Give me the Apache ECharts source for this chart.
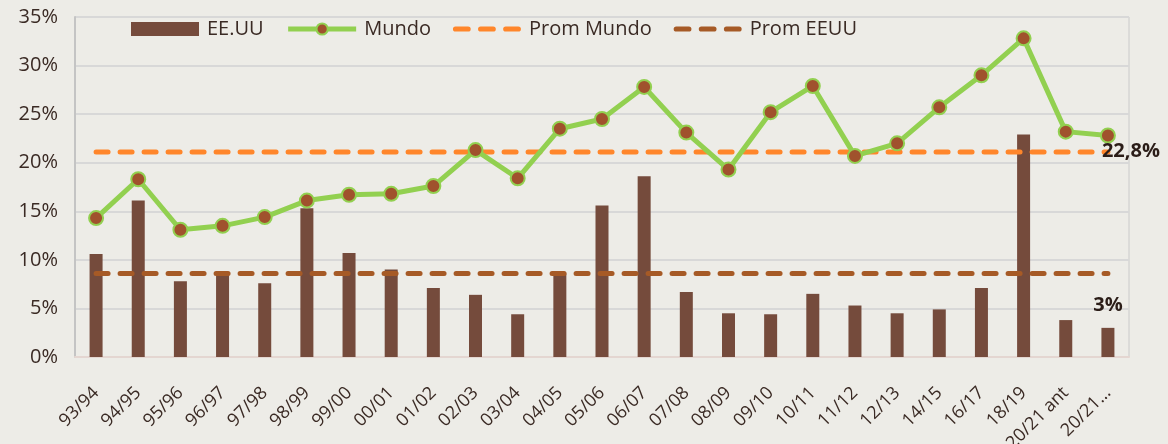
<!DOCTYPE html>
<html>
<head>
<meta charset="utf-8">
<script src="https://cdn.jsdelivr.net/npm/echarts@6/dist/echarts.min.js"></script>
<style>
  html, body { margin: 0; padding: 0; background: #EDECE7; }
  #chart { width: 1168px; height: 444px; }
</style>
</head>
<body>
<div id="chart"></div>
<script>
// datos
const categories = ['93/94', '94/95', '95/96', '96/97', '97/98', '98/99', '99/00', '00/01', '01/02', '02/03',
  '03/04', '04/05', '05/06', '06/07', '07/08', '08/09', '09/10', '10/11', '11/12', '12/13',
  '14/15', '16/17', '18/19', '20/21 ant', '20/21…'];
const eeuu = [10.6, 16.1, 7.8, 8.6, 7.6, 15.3, 10.7, 9.0, 7.1, 6.4,
  4.4, 8.6, 15.6, 18.6, 6.7, 4.5, 4.4, 6.5, 5.3, 4.5,
  4.9, 7.1, 22.9, 3.8, 3.0];
const mundo = [14.3, 18.3, 13.1, 13.5, 14.4, 16.1, 16.7, 16.8, 17.6, 21.3,
  18.4, 23.5, 24.5, 27.8, 23.1, 19.3, 25.2, 27.9, 20.7, 22.0,
  25.7, 29.0, 32.8, 23.2, 22.8];
const promMundo = 21.1;
const promEEUU = 8.6;
const yTicks = [0, 5, 10, 15, 20, 25, 30, 35];

const font = 'Open Sans';
const textColor = '#3A2A24';
// icono de linea discontinua para la leyenda
const dashIcon = 'path://M2.5,0h12a2.5,2.5 0 0 1 0,5h-12a2.5,2.5 0 0 1 0,-5Z' +
  'M26.5,0h12a2.5,2.5 0 0 1 0,5h-12a2.5,2.5 0 0 1 0,-5Z' +
  'M50.5,0h12a2.5,2.5 0 0 1 0,5h-12a2.5,2.5 0 0 1 0,-5Z';

const chart = echarts.init(document.getElementById('chart'));

const lastIdx = categories.length - 1;
const mundoData = mundo.map((v, i) => i === lastIdx ? {
  value: v,
  label: {
    show: true,
    position: [2, 14],
    formatter: '22,8%',
    fontFamily: font,
    fontWeight: 'bold',
    fontSize: 20,
    color: '#2B1D18'
  }
} : v);
const eeuuData = eeuu.map((v, i) => i === lastIdx ? {
  value: v,
  label: {
    show: true,
    position: 'top',
    distance: 13,
    formatter: '3%',
    fontFamily: font,
    fontWeight: 'bold',
    fontSize: 20,
    color: '#2B1D18'
  }
} : v);

const option = {
  backgroundColor: '#EDECE7',
  animation: false,
  grid: {
    left: 75, right: 39, top: 17, bottom: 87,
    show: true,
    borderColor: '#CACACA',
    borderWidth: 1,
    outerBoundsMode: 'none'
  },
  legend: {
    left: 126,
    top: 14,
    itemWidth: 68,
    itemHeight: 14,
    itemGap: 22,
    textStyle: { fontFamily: font, fontSize: 20, color: textColor, padding: [0, 0, 0, 3] },
    data: [
      { name: 'EE.UU', icon: 'rect' },
      { name: 'Mundo', lineStyle: { width: 5 } },
      { name: 'Prom Mundo', icon: dashIcon },
      { name: 'Prom EEUU', icon: dashIcon }
    ]
  },
  xAxis: {
    type: 'category',
    data: categories,
    boundaryGap: true,
    axisTick: { show: false },
    axisLine: { show: true, lineStyle: { color: '#E4D6D1', width: 2 } },
    axisLabel: {
      rotate: 45,
      interval: 0,
      margin: 33,
      fontFamily: font,
      fontSize: 18,
      color: textColor
    }
  },
  yAxis: {
    type: 'value',
    min: yTicks[0],
    max: yTicks[yTicks.length - 1],
    interval: 5,
    axisLine: { show: true, lineStyle: { color: '#C4C4C4', width: 2 } },
    axisTick: { show: false },
    splitLine: { lineStyle: { color: '#D8D8D8', width: 2 } },
    axisLabel: {
      formatter: '{value}%',
      margin: 17,
      fontFamily: font,
      fontSize: 20,
      color: textColor
    }
  },
  series: [
    {
      name: 'EE.UU',
      type: 'bar',
      data: eeuuData,
      barWidth: 13,
      itemStyle: { color: '#754B3C' },
      z: 2
    },
    {
      name: 'Prom Mundo',
      type: 'line',
      data: categories.map(() => promMundo),
      symbol: 'none',
      lineStyle: { color: '#FF862B', width: 5, type: [12, 12], cap: 'round' },
      itemStyle: { color: '#FF862B' },
      z: 3
    },
    {
      name: 'Prom EEUU',
      type: 'line',
      data: categories.map(() => promEEUU),
      symbol: 'none',
      lineStyle: { color: '#A65A26', width: 5, type: [12, 12], cap: 'round' },
      itemStyle: { color: '#A65A26' },
      z: 3
    },
    {
      name: 'Mundo',
      type: 'line',
      data: mundoData,
      symbol: 'circle',
      symbolSize: 14,
      lineStyle: { color: '#92D050', width: 5 },
      itemStyle: { color: '#A0522D', borderColor: '#92D050', borderWidth: 2 },
      z: 4
    }
  ]
};

chart.setOption(option);
</script>
</body>
</html>
